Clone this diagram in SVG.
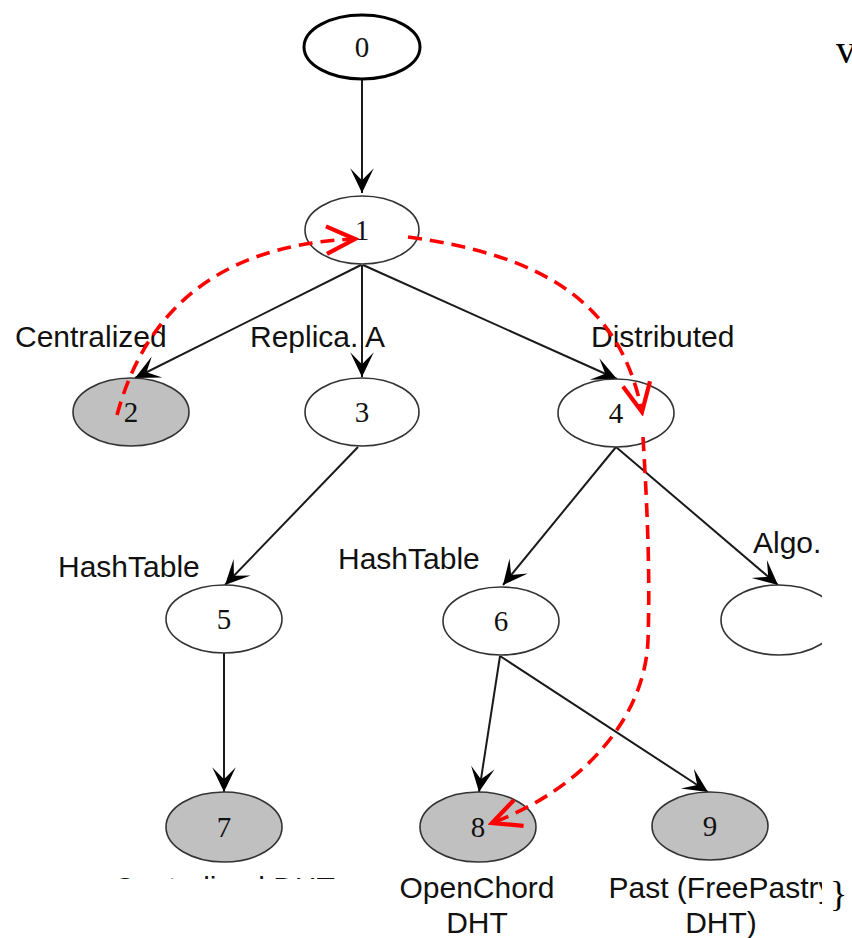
<svg xmlns="http://www.w3.org/2000/svg" width="852" height="938" viewBox="0 0 852 938">
  <style>
    .node { fill: #ffffff; stroke: #333333; stroke-width: 1.6; }
    .leaf { fill: #c0c0c0; stroke: #333333; stroke-width: 1.6; }
    .root { fill: #ffffff; stroke: #000000; stroke-width: 3; }
    .num { font-family: "Liberation Serif", "Times New Roman", serif; font-size: 29px; fill: #111111; text-anchor: middle; }
    .lbl { font-family: "Liberation Sans", Arial, sans-serif; font-size: 30px; fill: #111111; }
    .mid { text-anchor: middle; }
    .edge { fill: none; stroke: #1a1a1a; stroke-width: 2; marker-end: url(#vee); }
    .trace { fill: none; stroke: #ff0000; stroke-width: 3.6; stroke-dasharray: 14 8; marker-end: url(#chev); }
    .side { font-family: "Liberation Serif", "Times New Roman", serif; fill: #000000; }
  </style>
  <defs>
    <marker id="vee" markerUnits="userSpaceOnUse" markerWidth="30" markerHeight="30" viewBox="-26 -14 28 28" refX="0" refY="0" orient="auto">
      <path d="M0,0 L-23,-11 L-12,0 L-23,11 Z" fill="#000000"/>
    </marker>
    <marker id="chev" markerUnits="userSpaceOnUse" markerWidth="36" markerHeight="36" viewBox="-30 -16 34 32" refX="0" refY="0" orient="auto">
      <path d="M-27,-13 L0,0 L-27,13" fill="none" stroke="#ff0000" stroke-width="4" stroke-linejoin="miter"/>
    </marker>
    <clipPath id="rightCut">
      <rect x="0" y="0" width="822" height="938"/>
    </clipPath>
    <clipPath id="bottomCut">
      <rect x="0" y="0" width="852" height="879"/>
    </clipPath>
  </defs>

  <!-- tree edges -->
  <g id="edges">
    <path class="edge" d="M362,80 L362,193"/>
    <path class="edge" d="M361,265 L135,378"/>
    <path class="edge" d="M362,265 L362,377"/>
    <path class="edge" d="M363,265 L617,379"/>
    <path class="edge" d="M358,447 L225,585"/>
    <path class="edge" d="M616,447 L503,585"/>
    <path class="edge" d="M616,447 L778,585"/>
    <path class="edge" d="M224,653 L224,792"/>
    <path class="edge" d="M500,656 L479,792"/>
    <path class="edge" d="M500,656 L708,792"/>
  </g>

  <!-- edge labels -->
  <g id="edge-labels">
    <text class="lbl" x="15" y="347">Centralized</text>
    <text class="lbl" x="250" y="347">Replica. A</text>
    <text class="lbl" x="591" y="347">Distributed</text>
    <text class="lbl" x="58" y="577">HashTable</text>
    <text class="lbl" x="338" y="569">HashTable</text>
    <text class="lbl" x="753" y="553">Algo.</text>
  </g>

  <!-- nodes -->
  <g id="n0">
    <ellipse class="root" cx="362" cy="47" rx="58" ry="32"/>
    <text class="num" x="362" y="57">0</text>
  </g>
  <g id="n1">
    <ellipse class="node" cx="362" cy="230" rx="57" ry="34"/>
    <text class="num" x="362" y="240">1</text>
  </g>
  <g id="n2">
    <ellipse class="leaf" cx="131" cy="412" rx="58" ry="34"/>
    <text class="num" x="131" y="422">2</text>
  </g>
  <g id="n3">
    <ellipse class="node" cx="362" cy="412" rx="57" ry="34"/>
    <text class="num" x="362" y="422">3</text>
  </g>
  <g id="n4">
    <ellipse class="node" cx="616" cy="413" rx="58" ry="34"/>
    <text class="num" x="616" y="423">4</text>
  </g>
  <g id="n5">
    <ellipse class="node" cx="224" cy="619" rx="58" ry="34"/>
    <text class="num" x="224" y="629">5</text>
  </g>
  <g id="n6">
    <ellipse class="node" cx="501" cy="621" rx="58" ry="34"/>
    <text class="num" x="501" y="631">6</text>
  </g>
  <g id="nAlgo" clip-path="url(#rightCut)">
    <ellipse class="node" cx="779" cy="620" rx="58" ry="35"/>
  </g>
  <g id="n7">
    <ellipse class="leaf" cx="224" cy="827" rx="58" ry="35"/>
    <text class="num" x="224" y="837">7</text>
    <text class="lbl mid" x="224" y="898" clip-path="url(#bottomCut)">Centralized DHT</text>
  </g>
  <g id="n8">
    <ellipse class="leaf" cx="478" cy="827" rx="58" ry="35"/>
    <text class="num" x="478" y="837">8</text>
    <text class="lbl mid" x="477" y="898">OpenChord</text>
    <text class="lbl mid" x="477" y="933">DHT</text>
  </g>
  <g id="n9">
    <ellipse class="leaf" cx="710" cy="826" rx="58" ry="34"/>
    <text class="num" x="710" y="836">9</text>
    <g clip-path="url(#rightCut)">
      <text class="lbl mid" x="721" y="898">Past (FreePastry</text>
    </g>
    <text class="lbl mid" x="721" y="933">DHT)</text>
  </g>

  <!-- lookup route -->
  <g id="route">
    <path class="trace" d="M117,415 C140,330 200,245 355,239"/>
    <path class="trace" d="M408,237 C540,255 620,300 642,412"/>
    <path class="trace" d="M643,437 C648,520 650,580 648,640 C645,720 580,790 492,823"/>
  </g>

  <!-- surrounding text fragments -->
  <text class="side" x="836" y="63" font-size="40">v</text>
  <text class="side" x="830" y="906" font-size="36">}</text>
</svg>
